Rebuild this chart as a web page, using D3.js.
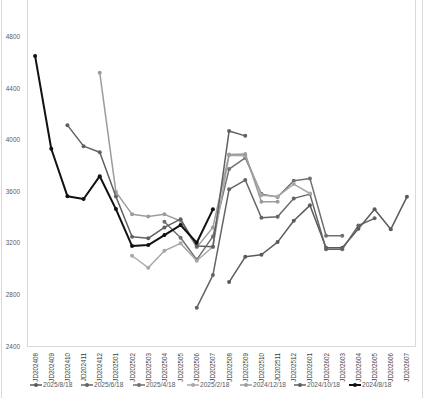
<!DOCTYPE html>
<html>
<head>
<meta charset="utf-8">
<script src="https://cdn.jsdelivr.net/npm/d3@7"></script>
<style>
  body { margin: 0; background: #fff; }
  svg { display: block; font-family: "Liberation Sans", Arial, sans-serif; }
</style>
</head>
<body>
<figure id="chart" style="margin:0"></figure>
<script>
// months on the x axis
const months = ["JD202408","JD202409","JD202410","JD202411","JD202412","JD202501","JD202502","JD202503",
  "JD202504","JD202505","JD202506","JD202507","JD202508","JD202509","JD202510","JD202511",
  "JD202512","JD202601","JD202602","JD202603","JD202604","JD202605","JD202606","JD202607"];

const yTicks = [2400, 2800, 3200, 3600, 4000, 4400, 4800];

// one array per forecast date (null = no value for that month)
const s20250818 = [null,null,null,null,null,null,null,null,null,null,null,null,
  2896,3092,3108,3206,3371,3491,3162,3162,3310,3460,3305,3557];
const s20250618 = [null,null,null,null,null,null,null,null,null,null,
  2697,2950,3615,3687,3395,3402,3545,3578,3150,3150,3335,3390,null,null];
const s20250418 = [null,null,null,null,null,null,null,null,
  3364,3240,3070,3250,3772,3860,3578,3555,3681,3700,3255,3255,null,null,null,null];
const s20250218 = [null,null,null,null,null,null,
  3100,3007,3139,3196,3061,3170,3880,3875,3570,3560,3656,3583,null,null,null,null,null,null];
const s20241218 = [null,null,null,null,
  4520,3595,3421,3405,3421,3370,3165,3320,3886,3890,3519,3519,null,null,null,null,null,null,null,null];
const s20241018 = [null,null,
  4113,3950,3903,3560,3247,3235,3320,3384,3175,3170,4067,4030,null,null,null,null,null,null,null,null,null,null];
const s20240818 = [4650,3930,3562,3540,3717,3462,3175,3183,3260,3338,3201,3460,
  null,null,null,null,null,null,null,null,null,null,null,null];

const seriesNames = ["2025/8/18","2025/6/18","2025/4/18","2025/2/18","2024/12/18","2024/10/18","2024/8/18"];
const seriesValues = [s20250818, s20250618, s20250418, s20250218, s20241218, s20241018, s20240818];
const seriesColors = ["#5a5a5a","#646464","#707070","#a8a8a8","#9c9c9c","#606060","#111111"];
const seriesWidths = [1.5, 1.5, 1.5, 1.5, 1.5, 1.5, 2];

const width = 425, height = 398;
const plot = { left: 27, right: 415, top: -15, bottom: 346 };

const svg = d3.select("#chart").append("svg")
  .attr("width", width)
  .attr("height", height);

// outer chart border
svg.append("rect")
  .attr("x", 1.5).attr("y", -5)
  .attr("width", 421).attr("height", height + 10)
  .attr("fill", "none").attr("stroke", "#d9d9d9");

// plot area border
svg.append("rect")
  .attr("x", plot.left + 0.5).attr("y", plot.top)
  .attr("width", plot.right - plot.left).attr("height", plot.bottom - plot.top + 0.5)
  .attr("fill", "none").attr("stroke", "#d9d9d9");

const x = d3.scaleBand()
  .domain(months)
  .range([plot.left, plot.right]);

const y = d3.scaleLinear()
  .domain([2400, 5200])
  .range([plot.bottom, plot.top]);

// y axis labels
const yAxis = svg.append("g")
  .attr("transform", "translate(" + plot.left + ",0)")
  .call(d3.axisLeft(y).tickValues(yTicks).tickFormat(d3.format("d")).tickSize(0).tickPadding(7));
yAxis.select(".domain").remove();
yAxis.selectAll("text").attr("font-size", 6.4).attr("fill", "#595959");

// x axis labels, rotated
const xAxis = svg.append("g")
  .attr("transform", "translate(0," + plot.bottom + ")")
  .call(d3.axisBottom(x).tickSize(0).tickPadding(0));
xAxis.select(".domain").remove();
xAxis.selectAll("text")
  .attr("font-size", 6.3)
  .attr("fill", "#404040")
  .attr("transform", "translate(2.5,7) rotate(-90)")
  .attr("dy", 0)
  .style("text-anchor", "end");

const line = d3.line()
  .defined(d => d != null)
  .x((d, i) => x(months[i]) + x.bandwidth() / 2)
  .y(d => y(d));

seriesValues.forEach((vals, k) => {
  const g = svg.append("g");
  g.append("path")
    .datum(vals)
    .attr("d", line)
    .attr("fill", "none")
    .attr("stroke", seriesColors[k])
    .attr("stroke-width", seriesWidths[k])
    .attr("stroke-linejoin", "round");
  g.selectAll("circle")
    .data(vals.map((v, i) => ({ v, i })).filter(d => d.v != null))
    .enter()
    .append("circle")
    .attr("cx", d => x(months[d.i]) + x.bandwidth() / 2)
    .attr("cy", d => y(d.v))
    .attr("r", 2)
    .attr("fill", seriesColors[k]);
});

// legend
const legendX = [30, 81, 133, 187, 240, 294, 349];
const legendY = 385;
const legend = svg.append("g");
seriesNames.forEach((name, k) => {
  const item = legend.append("g").attr("transform", "translate(" + legendX[k] + "," + legendY + ")");
  item.append("line")
    .attr("x1", 0).attr("x2", 12)
    .attr("stroke", seriesColors[k]).attr("stroke-width", seriesWidths[k]);
  item.append("circle").attr("cx", 6).attr("r", 2).attr("fill", seriesColors[k]);
  item.append("text")
    .attr("x", 13).attr("y", 2.3)
    .attr("font-size", 6.6)
    .attr("fill", "#595959")
    .text(name);
});
</script>
</body>
</html>
